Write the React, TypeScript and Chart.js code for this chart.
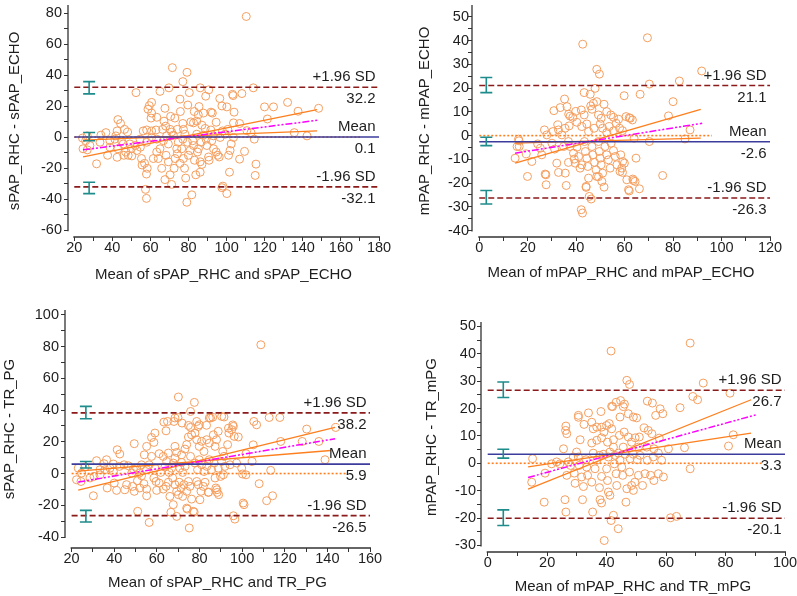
import React, { useEffect, useRef } from 'react';
import { Chart, registerables } from 'chart.js';

Chart.register(...registerables);

type Pt = [number, number];

const FONT = '"Liberation Sans", Arial, sans-serif';
const TEXT = '#1e1e1e';
const AXIS = '#333333';
const PT_COLOR = '#F59E5E';
const ORANGE = '#FF7F1E';
const MAGENTA = '#FF00FF';
const BLUE = '#3C3C9C';
const DARKRED = '#8B1A1A';
const TEAL = '#1F8C8C';

// ---------- titles ----------
const xTitles = [
  'Mean of sPAP_RHC and sPAP_ECHO',
  'Mean of mPAP_RHC and mPAP_ECHO',
  'Mean of sPAP_RHC and TR_PG',
  'Mean of mPAP_RHC and TR_mPG',
];
const yTitles = ['sPAP_RHC - sPAP_ECHO', 'mPAP_RHC - mPAP_ECHO', 'sPAP_RHC - TR_PG', 'mPAP_RHC - TR_mPG'];
const limitLabels = ['+1.96 SD', 'Mean', '-1.96 SD'];

// ---------- limits [upper, mean, lower] ----------
const limits1 = [32.2, 0.1, -32.1];
const limits2 = [21.1, -2.6, -26.3];
const limits3 = [38.2, 5.9, -26.5];
const limits4 = [26.7, 3.3, -20.1];

// ---------- CI error bars [low, high] for upper, mean, lower ----------
const ci1: Pt[] = [[27.9, 35.8], [-2.3, 2.95], [-36.4, -29.1]];
const ci2: Pt[] = [[18.1, 24.5], [-4.2, -0.7], [-28.8, -23.1]];
const ci3: Pt[] = [[34.5, 42.3], [3.5, 7.6], [-30.5, -23.2]];
const ci4: Pt[] = [[24.0, 29.7], [1.9, 5.1], [-22.7, -17.0]];
const ciXs = [27.8, 2.9, 26.7, 5.25];

// ---------- regression lines ----------
const reg1A: Pt[] = [[24.6, -12.7], [147.5, 17.8]];
const reg1B: Pt[] = [[24.6, -1.9], [147.5, 4.0]];
const reg1M: Pt[] = [[24.6, -8.2], [148, 10.9]];
const reg2A: Pt[] = [[14.8, -11.6], [91.4, 11.0]];
const reg2B: Pt[] = [[14.8, -3.2], [91.4, -1.1]];
const reg2M: Pt[] = [[14.8, -7.4], [92, 5.2]];
const reg3A: Pt[] = [[23.1, -10.4], [143.6, 29.0]];
const reg3B: Pt[] = [[23.1, 1.5], [141.5, 14.5]];
const reg3M: Pt[] = [[23.1, -5.4], [143.6, 21.9]];
const reg4A: Pt[] = [[13.6, -9.4], [88.6, 23.2]];
const reg4B: Pt[] = [[13.6, -1.3], [88.6, 11.0]];
const reg4M: Pt[] = [[13.6, -5.2], [90.2, 17.7]];

// end of the dotted zero line (x value)
const zeroEnds = [170, 96, 149, 92.7];

// ---------- scatter points [mean, difference] ----------
const p1Points: Pt[] = [
  [110.3, 77.8], [71.5, 44.8], [79.2, 41.8], [77.0, 35.8], [69.7, 31.8], [86.1, 31.8], [114, 31.8], [90.6, 30.5],
  [52.4, 28.7], [80.4, 28.7], [65, 29.5], [103.1, 27.6], [103.4, 26.8], [96.4, 24.9], [89, 26.4], [75.5, 24.5],
  [60.6, 22.4], [59.4, 20.3], [79.6, 20.7], [67.6, 18.6], [119.9, 19.5], [124.6, 19.5], [132, 22.4], [137.5, 16.7],
  [148.3, 18.6], [121.4, 11.7], [100.1, 19.5], [91.8, 16.1], [85.5, 19.7], [83, 16.5], [85.1, 14.4], [75.7, 16.5],
  [72.8, 12.3], [70.6, 13.4], [67.1, 10.3], [63.3, 12.8], [60.6, 15.5], [60.3, 12.3], [58.7, 18], [42.9, 11.3],
  [44.3, 8.8], [36.6, 2.9], [34, 1.3], [26.8, 0.8], [48, 3.3], [46.4, 5], [42.5, 4], [41.8, 0.8], [56.2, 4],
  [58, 4.6], [60.6, 4], [62.9, 4.6], [66.4, 5], [68, 7.1], [70.3, 5], [71.1, 3.3], [74.1, 5], [77, 8.8], [77.3, 5],
  [81.2, 9.8], [82.6, 9.2], [84.3, 10.3], [87, 7.7], [88.7, 5.6], [91.7, 4.6], [94.5, 9.6], [97.8, 4], [100.6, 5],
  [103.6, 9.2], [106.8, 8.8], [110.6, 4.2], [112.8, 2.9], [114.5, -1.3], [135.5, 2.9], [142.2, 0.8], [24.3, -0.6],
  [26, -2.3], [28.2, -5.4], [24.6, -7.5], [26.8, -8.2], [31.7, -17.2], [38.7, -6.5], [37.5, -11.7], [42.9, -7.5],
  [42.5, -13], [45.7, -4.4], [47.1, -9.6], [48.3, -11.7], [46, -11.7], [50.2, -12.1], [49.9, -7.5], [52, -5.4],
  [52.9, -8.6], [54.7, -6.5], [55.6, -18], [55.3, -13.8], [56.9, -16.9], [58.3, -20.1], [57.9, -23.8], [57.4, -33.7],
  [57.9, -39.5], [61.5, -13.8], [63.3, -9.6], [64.1, -13.8], [65, -7.5], [65.9, -20.1], [67.6, -27.4], [68.2, -11.7],
  [69.4, -4.4], [69.4, -15.9], [70.3, -24.3], [71.1, -30.5], [72.4, -20.1], [72.9, -13.8], [73.8, -7.5], [74.1, -10.7],
  [75.5, -16.9], [76.4, -7.5], [77, -1.3], [77.3, -13.8], [77.9, -20.1], [78.5, -26.4], [79.1, -42], [81.7, -37.2],
  [79.9, -11.7], [80.8, -8.6], [82.2, -2.3], [82.6, -5.4], [83.1, -14.9], [83.8, -24.3], [84.7, -9.6], [85.2, -7.5],
  [86.1, -15.9], [86.1, -22.6], [87, -17.6], [89.2, -1.3], [89.6, -5.4], [90.5, -12.8], [90.8, -14.9], [93.1, 0.8],
  [94.5, -9.6], [95.3, -11.7], [96.1, -12.8], [96.6, -0.2], [97.5, -32.6], [98, -31.6], [100.1, -36.4], [101, -11.7],
  [101.8, -8.6], [101.5, -22.6], [102.4, -4.4], [103.6, -0.2], [106.8, -14.2], [109.4, -9.2], [115, -24.7], [115.4, -17.4],
  [60.6, -0.2], [63.3, -1.3], [66.8, -2.3], [68.5, 0.8], [72, 1.3], [74.6, -3.3], [78.1, 1.9], [79.4, -3.3],
  [84.3, 1.9], [86.6, -3.3], [87.8, 1.3], [92.2, -2.3], [99.2, 1.9], [93.1, -7.5], [44.8, -2.3], [49.2, -4.4],
  [54.5, -1.3], [58, -3.3], [33.5, -3.3], [38.7, -2.3], [41.3, -1.3], [97.5, 20.1], [103.9, 16.1], [92.5, 15.5],
  [87.8, 15.5], [108, 28.1],
];

const p2Points: Pt[] = [
  [69.4, 41.2], [42.7, 38.5], [91.8, 27.2], [48.5, 27.9], [49.6, 25.9], [70.2, 21.7], [82.6, 23], [43.3, 18.1],
  [47.8, 19.9], [45.8, 17.4], [66.4, 17.4], [59.8, 16.8], [80, 14.3], [35.2, 15.4], [30.8, 10.5], [33.4, 11.8],
  [36.2, 12.2], [36.9, 9], [38.6, 7.7], [39.8, 10.2], [42.1, 10.8], [43.3, 8.7], [46, 12.5], [47.1, 13.6],
  [46.5, 11.1], [48.5, 14.3], [51.5, 13.2], [49.2, 8.7], [50.3, 7.3], [52.6, 10.1], [54.3, 8.7], [55.4, 7.7],
  [57.5, 6.9], [60.6, 8], [62.3, 7.3], [63.2, 6.6], [78.1, 8.3], [87, 2.4], [84.9, -1.4], [70.2, -2.5],
  [32.4, 4.5], [32.7, 2.4], [30.4, 1.7], [26.9, 2.4], [27.9, 0.3], [34.1, 0.3], [35.4, 3.1], [37.1, 4.1],
  [40.3, 5.6], [42.3, 3.8], [44.4, 4.9], [45.1, 1.7], [47.4, 3.1], [49.9, 4.9], [50.9, 3.1], [52.6, 1.3],
  [53.6, 3.8], [55.4, 2], [56.5, 5.2], [57.9, 3.1], [59.1, 2.1], [63.9, -1.1], [14.8, -9.5], [16.5, -4.6],
  [16.2, -1.5], [19.4, -7.7], [19.9, -17.2], [21.7, -10.9], [24.1, -3.5], [25.2, -5.3], [25.8, -8.1], [27.2, -16.2],
  [27.6, -20.7], [30, -3.2], [31.1, -5.7], [32, -11.6], [32.7, -15.5], [35.5, -15.8], [35.9, -21], [34.8, -4.6],
  [36.8, -2.5], [37.5, -4.6], [38.9, -7.4], [39.2, -9.9], [39.6, -11.6], [40.3, -4.9], [41, -8.8], [41.6, -13.7],
  [42.3, -12.3], [42.1, -31.2], [42.6, -32.6], [43.4, -2.5], [43.8, -6.7], [44.4, -9.5], [44.8, -13], [45.1, -17.9],
  [44.1, -21.4], [45.4, -25.6], [46.2, -26.7], [46.5, -4.6], [46.9, -8.1], [47.6, -11.3], [48.2, -14.4], [48.5, -17.2],
  [49.2, -2.5], [49.5, -6.7], [49.9, -9.5], [50.3, -12.3], [50.9, -15.8], [50.6, -19.3], [51.5, -21.7], [51.9, -4.6],
  [52.6, -8.1], [53.3, -10.2], [54, -13.7], [54.4, -3.2], [55.4, -6.3], [56.1, -8.8], [56.8, -12.3], [58.1, -15.1],
  [58.8, -13.7], [59.2, -10.9], [58.4, -8.1], [59.9, -11.6], [60.9, -18.6], [61.6, -22.8], [63.4, -18.3], [64.3, -19.3],
  [64.7, -9.5], [66.1, -22.4], [75.7, -16.8], [61.9, -23.3], [63.6, -18.9], [59.1, -15.5], [49.2, -17.3], [44.1, -21.8],
  [36.8, -11.3], [27.5, -16.5], [16.4, -2.2], [15.6, -4.6], [61.9, 7.5], [37.5, 8.2],
];

const p3Points: Pt[] = [
  [108.8, 81.1], [70.1, 48.2], [77.6, 44.8], [75.8, 39.1], [68.5, 35], [85.2, 35], [90.4, 36], [86.2, 35.5],
  [105.5, 32.8], [106.8, 30.7], [112.7, 35.3], [117.7, 35.3], [78.7, 32.8], [79.9, 30.7], [71.8, 31.8], [68, 32.8],
  [63.3, 32.4], [75.8, 29.1], [64.3, 26.9], [59.1, 25.5], [57.5, 22.7], [58.6, 19.6], [55.2, 17.1], [49.4, 18.8],
  [41.4, 15], [42.6, 12.3], [36.4, 8.7], [39.6, 6], [31.7, 8.1], [35.2, 6.2], [26.3, 4.1], [23.1, 3.4], [33.3, 2.4],
  [38, 3.4], [42.4, 4.5], [46.6, 4.9], [49, 2.8], [52.8, 5.5], [54.1, 11.8], [57.5, 10.8], [61.1, 12.5], [63, 10.8],
  [65.4, 12.9], [68.5, 17.1], [69.3, 13.3], [71.6, 11.8], [73.2, 15.4], [74, 18.2], [74.8, 23], [76.3, 24.4],
  [77.9, 25.5], [78.7, 21.3], [79.9, 17.1], [81, 20.3], [82.1, 13.9], [83.4, 21.3], [84.6, 19.2], [86.5, 24.4],
  [87.3, 17.1], [88, 21.3], [88.8, 26.6], [90.9, 13.9], [91.5, 10.8], [93.2, 18.2], [93.8, 25.5], [95.1, 27.6],
  [95.9, 29.7], [96.3, 23.4], [98.2, 23], [101.8, 12.5], [130.3, 28], [143.9, 29], [105.2, 18.1], [118.1, 20.2],
  [128.2, 20.2], [136, 20.2], [138.9, 8.7], [104.7, 7.6], [100.2, -0.3], [101.8, -0.8], [113.4, 2], [108, -6.4],
  [100.9, -19.6], [114.3, -14], [111.5, -17.1], [95.9, -26.6], [96.6, -28.7],
  [22.3, -3.9], [24.4, -5], [28.6, -2.8], [30.2, -14], [36.7, -9.1], [40, -6], [41.1, -10.6], [45, -10.2],
  [45.8, -7], [48.6, -8.1], [49.4, -11.2], [50.9, -4.5], [52, -9.1], [52.8, -1.4], [53.9, -6.4], [55.2, -14],
  [51, -23.8], [55.2, -9.8], [56.4, -30.8], [58.6, -2.8], [59.6, -5], [59.9, -10.6], [61.1, -6], [63, -9.8],
  [64.3, -8.1], [65.4, -5.5], [66.1, -14.4], [66.6, -24.4], [67.7, -19.6], [67.4, -2.8], [68.5, -7], [69.3, -11.2],
  [70.1, -13.3], [70.5, -5.5], [71.3, -9.1], [72.1, -14.4], [69.3, -27], [72.7, -7], [74, -11.2], [74.8, -5],
  [75.5, -8.1], [76.3, -16.1], [74.3, -22.4], [75.2, -34.3], [77.1, -23.8], [78.7, -5], [79.4, -7], [80.2, -16.5],
  [80.7, -11.2], [81.8, -8.1], [82.6, -5.5], [84.1, -11.9], [87.7, -9.1], [88.3, -11.9], [87.3, -2.8], [89.9, -1.8],
  [91.2, -0.8], [88.2, -10.2], [89, -13.3], [84.3, -11.7], [74, -21.8], [77.5, -24.3], [100.5, -18.6],
  [24.7, 0.3], [30.5, -1.8], [33.3, -0.8], [35.6, 2.4], [39.6, 1.3], [44.6, 5.5], [48.2, 0.3], [50.5, 3.4],
  [51.8, 0.3], [55.2, 2.4], [56.4, 5.5], [59.1, 3.4], [61.8, 0.7], [63.8, 4.1], [64.6, 7.6], [65.8, 0.7],
  [66.9, 3.4], [67.7, 6.6], [68.5, 9.7], [70.8, 3.4], [71.6, 7], [72.1, 0.7], [73.2, 4.5], [75.8, 10.8],
  [77.9, 6.6], [79.1, 2.4], [79.9, 8.7], [81, 5.5], [82.1, 1.3], [83.4, 4.5], [84.6, 8.7], [85.7, 2.4],
  [86.8, 6.6], [88.8, 3.4], [90.4, 7.6], [91.9, 4.5], [94.3, 5.5], [97.4, 6.6], [99.8, 3.4], [65, 32.8],
  [69.9, 35.3], [74.8, 30.3], [79.4, 29.6], [83.3, 30.4], [84.6, 35], [91.5, 35.6], [93.6, 28.6], [95.6, 30.6],
];

const p4Points: Pt[] = [
  [68.1, 43.9], [41.5, 41], [46.8, 30.3], [47.7, 28.8], [72.5, 29.3], [69, 24.4], [70.6, 23.2], [81.5, 25.6],
  [53.7, 22.7], [55.4, 22], [43.2, 22.3], [44.7, 22.9], [45.6, 20.7], [42, 20.7], [64.7, 20.3], [58, 19.9],
  [58.9, 18.1], [56.5, 17.5], [50.1, 16.6], [47.3, 18.1], [44.5, 16.9], [49, 16.9], [38.1, 18.9], [33.9, 18.4],
  [30.5, 17.5], [35, 15], [32.4, 14.2], [26.3, 13.6], [26.2, 12], [26.6, 10.8], [31.1, 8.6], [35.5, 12.6],
  [36.7, 13.2], [38.3, 13.2], [39.1, 11.4], [40, 13.8], [40.9, 14.5], [41.7, 12.6], [44.3, 10.2], [45.9, 11.4],
  [47.3, 9.6], [48.4, 7.7], [49.6, 9.3], [51, 9.6], [52.6, 12.9], [54, 12], [55.2, 10.8], [57.7, 9.2], [38.3, 9.3],
  [36.7, 8.4], [35, 7.4], [40.3, 7.7], [42.3, 8.6], [42.3, 5.9], [45.6, 5.9], [50.7, 5.9], [53.5, 5.9], [55.9, 5.3],
  [60.8, 5.3], [66.2, 5.7], [81, 6.3], [82.6, 10.4], [68.1, -2], [14.8, -6.9], [15.1, 1.7], [19.3, -3.6],
  [19, -14.2], [21.5, -0.2], [23.2, 0.5], [25.5, 5.3], [26, -13.3], [26.3, -17.8], [26.6, -4.4], [27.9, -0.8],
  [29.4, -7.3], [29.1, -3.6], [30.5, 2.3], [30.8, -0.8], [31.6, -5], [32.2, -8.5], [31.9, -13.3], [33.3, -1.4],
  [33.6, -4.4], [35, -6.9], [35.3, -17.8], [36.1, -2], [36.7, 1.1], [37.6, -8.9], [37.8, -13.3], [38.3, -14.5],
  [39.2, -28.2], [38.3, -4.8], [40, -2], [40.3, -6.3], [40.6, -10.5], [41.1, -11.7], [41.5, -20.9], [42.3, -19],
  [42.6, -0.2], [43.2, -3.8], [43.4, -8.1], [43.9, -23.9], [44.5, 1.1], [45.1, -1.4], [45.4, -4.4], [46.8, -9.3],
  [46.5, -14.2], [47.7, -3.2], [48.4, -8.1], [49, -9.9], [49.5, -6.9], [50.7, -4.4], [52.1, -8.1], [52.9, -3.8],
  [54.8, -4.4], [55.9, -6.3], [57.4, -3.8], [59.1, -5], [61.5, -19.9], [63.5, -19.4], [24.3, -0.2], [27.1, 0.5],
  [28.8, 2.3], [29.9, 4.1], [33.1, 1.3], [35.5, 3.7], [37.6, 2.9], [38.9, 3.3], [40.6, 2.3], [41.1, 4.1],
  [42.8, 2.9], [44, 3.7], [46.2, 3.3], [47.9, 1.7], [49, 3.3], [50.3, 1.3], [51.2, 2.9], [53.7, 1.1], [55.7, 2.3],
  [57.4, 3.7], [58.5, 1.1], [41.7, 20.8], [46, 21.6], [30.5, 16.8],
];

// ---------- panel layout specs ----------
interface PanelSpec {
  box: [number, number, number, number];
  yAxisW: number;
  xAxisH: number;
  padTop: number;
  padRight: number;
  xLim: Pt;
  yLim: Pt;
  xTicks: [number, number, number, number];
  yTicks: [number, number, number, number];
  xTitle: string;
  yTitle: string;
  xTitlePad: number;
  yTitlePad: number;
  yTickPad: number;
  points: Pt[];
  limits: number[];
  ci: Pt[];
  ciX: number;
  regA: Pt[];
  regB: Pt[];
  regM: Pt[];
  zeroEnd: number;
}

const panels: PanelSpec[] = [
  {
    box: [0, 0, 400, 300], yAxisW: 68, xAxisH: 63, padTop: 0, padRight: 21,
    xLim: [16.7, 180], yLim: [-64.4, 85.2], xTicks: [20, 180, 10, 20], yTicks: [-60, 80, 10, 20],
    xTitle: xTitles[0], yTitle: yTitles[0], xTitlePad: 16, yTitlePad: 6, yTickPad: 2,
    points: p1Points, limits: limits1, ci: ci1, ciX: ciXs[0], regA: reg1A, regB: reg1B, regM: reg1M, zeroEnd: zeroEnds[0],
  },
  {
    box: [400, 0, 397, 300], yAxisW: 72, xAxisH: 63, padTop: 5, padRight: 27,
    xLim: [-3, 120], yLim: [-42.7, 55], xTicks: [0, 120, 10, 20], yTicks: [-40, 50, 5, 10],
    xTitle: xTitles[1], yTitle: yTitles[1], xTitlePad: 18, yTitlePad: 16, yTickPad: -1,
    points: p2Points, limits: limits2, ci: ci2, ciX: ciXs[1], regA: reg2A, regB: reg2B, regM: reg2M, zeroEnd: zeroEnds[1],
  },
  {
    box: [0, 300, 400, 296], yAxisW: 65, xAxisH: 48, padTop: 10, padRight: 30,
    xLim: [16.9, 160], yLim: [-46.9, 103], xTicks: [20, 160, 10, 20], yTicks: [-40, 100, 10, 20],
    xTitle: xTitles[2], yTitle: yTitles[2], xTitlePad: 4, yTitlePad: 1, yTickPad: 2,
    points: p3Points, limits: limits3, ci: ci3, ciX: ciXs[2], regA: reg3A, regB: reg3B, regM: reg3M, zeroEnd: zeroEnds[2],
  },
  {
    box: [400, 300, 397, 296], yAxisW: 81, xAxisH: 44, padTop: 22, padRight: 12,
    xLim: [-2.25, 100], yLim: [-32.4, 51.6], xTicks: [0, 100, 10, 20], yTicks: [-30, 50, 5, 10],
    xTitle: xTitles[3], yTitle: yTitles[3], xTitlePad: 0, yTitlePad: 23, yTickPad: 1,
    points: p4Points, limits: limits4, ci: ci4, ciX: ciXs[3], regA: reg4A, regB: reg4B, regM: reg4M, zeroEnd: zeroEnds[3],
  },
];

function tickList(from: number, to: number, step: number): number[] {
  const out: number[] = [];
  for (let v = from; v <= to + 1e-9; v += step) out.push(Math.round(v * 1000) / 1000);
  return out;
}

function makeScale(
  lim: Pt, ticks: [number, number, number, number], title: string, titlePad: number,
  size: number, isX: boolean, tickPad: number,
) {
  return {
    type: 'linear' as const,
    min: lim[0],
    max: lim[1],
    bounds: 'data' as const,
    afterBuildTicks: (s: any) => {
      s.ticks = tickList(ticks[0], ticks[1], ticks[2]).map((v) => ({ value: v }));
    },
    afterFit: (s: any) => {
      if (isX) s.height = size; else s.width = size;
      s.paddingLeft = 0; s.paddingRight = 0; s.paddingTop = 0; s.paddingBottom = 0;
    },
    grid: { display: true, drawOnChartArea: false, drawTicks: true, tickLength: 4, tickColor: AXIS, tickWidth: 1 },
    border: { display: false },
    ticks: {
      autoSkip: false, maxRotation: 0, minRotation: 0, padding: tickPad, color: TEXT,
      font: { family: FONT, size: 14.5 },
      callback: (v: any) => (Math.abs(Number(v) % ticks[3]) < 1e-6 ? String(v) : ''),
    },
    title: {
      display: true, text: title, color: TEXT, font: { family: FONT, size: 15 },
      padding: isX ? { top: 0, bottom: titlePad } : { top: titlePad, bottom: 0 },
    },
  };
}

function lineDs(pts: Pt[], color: string, width: number, dash: number[], order: number) {
  return {
    data: pts.map(([a, b]) => ({ x: a, y: b })),
    showLine: true, borderColor: color, borderWidth: width, borderDash: dash,
    pointRadius: 0, pointHoverRadius: 0, fill: false, order,
  };
}

function decorPlugin(p: PanelSpec) {
  return {
    id: 'baDecor',
    afterDatasetsDraw(chart: any) {
      const { ctx, chartArea } = chart;
      const x = chart.scales.x;
      const y = chart.scales.y;
      ctx.save();
      // detached axis lines
      ctx.strokeStyle = AXIS;
      ctx.lineWidth = 1.3;
      ctx.beginPath();
      ctx.moveTo(chartArea.left, y.getPixelForValue(p.yTicks[0]) + 1);
      ctx.lineTo(chartArea.left, y.getPixelForValue(p.yLim[1]));
      ctx.moveTo(x.getPixelForValue(p.xTicks[0]) - 1, chartArea.bottom);
      ctx.lineTo(x.getPixelForValue(p.xTicks[1]) + 1, chartArea.bottom);
      ctx.stroke();
      // confidence-interval bars
      ctx.strokeStyle = TEAL;
      ctx.lineWidth = 1.6;
      const cx = x.getPixelForValue(p.ciX);
      p.ci.forEach(([lo, hi]) => {
        const y0 = y.getPixelForValue(lo);
        const y1 = y.getPixelForValue(hi);
        ctx.beginPath();
        ctx.moveTo(cx, y0); ctx.lineTo(cx, y1);
        ctx.moveTo(cx - 6, y0); ctx.lineTo(cx + 6, y0);
        ctx.moveTo(cx - 6, y1); ctx.lineTo(cx + 6, y1);
        ctx.stroke();
      });
      // limit labels
      ctx.fillStyle = TEXT;
      ctx.font = `15px ${FONT}`;
      ctx.textAlign = 'right';
      ctx.textBaseline = 'middle';
      const rx = x.getPixelForValue(p.xTicks[1]) - 3.5;
      p.limits.forEach((v, i) => {
        const py = y.getPixelForValue(v);
        ctx.fillText(limitLabels[i], rx, py - 10);
        ctx.fillText(v.toFixed(1), rx, py + 12);
      });
      ctx.restore();
    },
  };
}

function buildConfig(p: PanelSpec): any {
  const x0 = p.xTicks[0];
  const x1 = p.xTicks[1];
  return {
    type: 'scatter',
    data: {
      datasets: [
        {
          data: p.points.map(([a, b]) => ({ x: a, y: b })),
          pointRadius: 4, pointHoverRadius: 4, pointStyle: 'circle',
          borderColor: PT_COLOR, backgroundColor: 'rgba(0,0,0,0)', borderWidth: 1, showLine: false, order: 10,
        },
        lineDs([[x0, 0], [p.zeroEnd, 0]], ORANGE, 1.6, [2, 2], 7),
        lineDs(p.regA, ORANGE, 1.3, [], 6),
        lineDs(p.regB, ORANGE, 1.3, [], 6),
        lineDs(p.regM, MAGENTA, 1.5, [7, 2, 2, 2, 2, 2], 5),
        lineDs([[x0, p.limits[1]], [x1, p.limits[1]]], BLUE, 1.6, [], 4),
        lineDs([[x0, p.limits[0]], [x1, p.limits[0]]], DARKRED, 1.6, [6, 3], 3),
        lineDs([[x0, p.limits[2]], [x1, p.limits[2]]], DARKRED, 1.6, [6, 3], 3),
      ],
    },
    options: {
      responsive: false,
      animation: false,
      events: [],
      devicePixelRatio: 1,
      layout: { padding: { top: p.padTop, right: p.padRight, left: 0, bottom: 0 } },
      plugins: { legend: { display: false }, tooltip: { enabled: false } },
      scales: {
        x: makeScale(p.xLim, p.xTicks, p.xTitle, p.xTitlePad, p.xAxisH, true, -2),
        y: makeScale(p.yLim, p.yTicks, p.yTitle, p.yTitlePad, p.yAxisW, false, p.yTickPad),
      },
    },
    plugins: [decorPlugin(p)],
  };
}

function Panel({ spec }: { spec: PanelSpec }) {
  const ref = useRef<HTMLCanvasElement>(null);
  useEffect(() => {
    if (!ref.current) return;
    const chart = new Chart(ref.current, buildConfig(spec));
    return () => chart.destroy();
  }, [spec]);
  const [l, t, w, h] = spec.box;
  return (
    <div style={{ position: 'absolute', left: l, top: t, width: w, height: h }}>
      <canvas ref={ref} width={w} height={h} style={{ display: 'block', width: w, height: h }} />
    </div>
  );
}

export default function App() {
  return (
    <div style={{ position: 'absolute', left: 0, top: 0, width: 797, height: 596, background: '#ffffff' }}>
      {panels.map((p, i) => (
        <Panel key={i} spec={p} />
      ))}
    </div>
  );
}
